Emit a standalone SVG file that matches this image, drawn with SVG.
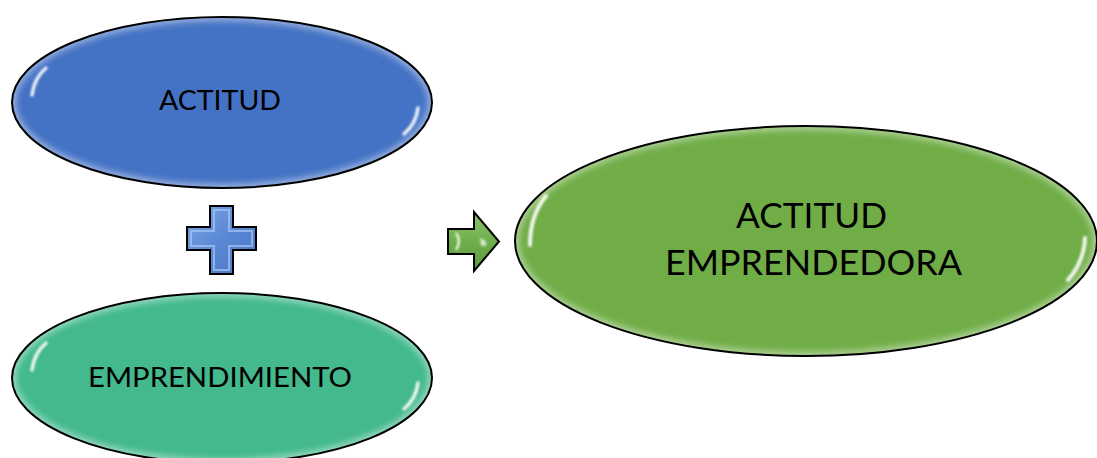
<svg xmlns="http://www.w3.org/2000/svg" width="1097" height="458" viewBox="0 0 1097 458">
<style>
.lbl{font-family:Lato,"Open Sans","Liberation Sans",sans-serif;fill:#000;text-anchor:middle}
.outline{stroke:#000;stroke-width:2}
.rim{fill:none;stroke:#fff;stroke-opacity:0.45;stroke-width:8;filter:url(#blur3)}
.hl{fill:none;stroke:#fff;stroke-linecap:round;filter:url(#blur1)}
</style>
<defs>
<filter id="blur3" x="-10%" y="-10%" width="120%" height="120%"><feGaussianBlur stdDeviation="3"/></filter>
<filter id="blur1" x="-50%" y="-50%" width="200%" height="200%"><feGaussianBlur stdDeviation="1.2"/></filter>
<clipPath id="c1"><ellipse cx="222" cy="102.5" rx="210" ry="85.5"/></clipPath>
<clipPath id="c2"><ellipse cx="222" cy="378" rx="210" ry="85"/></clipPath>
<clipPath id="c3"><ellipse cx="806" cy="241" rx="291" ry="115"/></clipPath>
<linearGradient id="plusG" x1="0" y1="0" x2="1" y2="1">
<stop offset="0" stop-color="#7ea6e6"/><stop offset="0.5" stop-color="#5a88d4"/><stop offset="1" stop-color="#4a76c2"/>
</linearGradient>
<linearGradient id="arrG" x1="0" y1="0" x2="0" y2="1">
<stop offset="0" stop-color="#8cc46c"/><stop offset="0.5" stop-color="#6fae4c"/><stop offset="1" stop-color="#5c9a3c"/>
</linearGradient>
</defs>

<g id="node-actitud">
<ellipse cx="222" cy="102.5" rx="210" ry="85.5" fill="#4472c4"/>
<g clip-path="url(#c1)"><ellipse class="rim" cx="222" cy="102.5" rx="210" ry="85.5"/></g>
<path class="hl" d="M32 95 Q34 78 46 68" stroke-width="3.5" stroke-opacity="0.9"/>
<path class="hl" d="M418 108 Q416 124 404 134" stroke-width="3.5" stroke-opacity="0.9"/>
<ellipse class="outline" cx="222" cy="102.5" rx="210" ry="85.5" fill="none"/>
<text class="lbl" x="220" y="110" font-size="26" textLength="122" lengthAdjust="spacingAndGlyphs">ACTITUD</text>
</g>

<g id="node-emprendimiento">
<ellipse cx="222" cy="378" rx="210" ry="85" fill="#43b98d"/>
<g clip-path="url(#c2)"><ellipse class="rim" cx="222" cy="378" rx="210" ry="85"/></g>
<path class="hl" d="M32 370 Q34 353 46 343" stroke-width="3.5" stroke-opacity="0.9"/>
<path class="hl" d="M418 383 Q416 399 404 409" stroke-width="3.5" stroke-opacity="0.9"/>
<ellipse class="outline" cx="222" cy="378" rx="210" ry="85" fill="none"/>
<text class="lbl" x="220" y="387" font-size="26" textLength="264" lengthAdjust="spacingAndGlyphs">EMPRENDIMIENTO</text>
</g>

<g id="node-actitud-emprendedora">
<ellipse cx="806" cy="241" rx="291" ry="115" fill="#70ad47"/>
<g clip-path="url(#c3)"><ellipse class="rim" cx="806" cy="241" rx="291" ry="115"/></g>
<path class="hl" d="M530 245 Q530 215 546 196" stroke-width="4" stroke-opacity="0.9"/>
<path class="hl" d="M1085 238 Q1084 262 1068 280" stroke-width="4" stroke-opacity="0.9"/>
<ellipse class="outline" cx="806" cy="241" rx="291" ry="115" fill="none"/>
<text class="lbl" x="811.5" y="228" font-size="35" textLength="151" lengthAdjust="spacingAndGlyphs">ACTITUD</text>
<text class="lbl" x="813.5" y="275" font-size="35" textLength="297" lengthAdjust="spacingAndGlyphs">EMPRENDEDORA</text>
</g>

<g id="connectors">
<g id="plus">
<path d="M210 206 H233 V227 H256 V250 H233 V274 H210 V250 H187 V227 H210 Z" fill="url(#plusG)" stroke="#000" stroke-width="2" stroke-linejoin="miter"/>
<path d="M214 210 H229 V231 H252 V246 H229 V270 H214 V246 H191 V231 H214 Z" fill="none" stroke="#a9c6f2" stroke-width="2" stroke-opacity="0.7"/>
<path d="M221.5 212 V236 M221.5 244 V268" stroke="#cfe0fb" stroke-width="2.5" filter="url(#blur1)"/>
</g>
<g id="arrow">
<path d="M448 229 H474 V212 L499 241.5 L474 271 V254 H448 Z" fill="url(#arrG)" stroke="#000" stroke-width="2" stroke-linejoin="miter"/>
<path d="M456 233 Q462 241 456 250" fill="none" stroke="#e9f5df" stroke-width="2.5" filter="url(#blur1)"/>
<path d="M480 238 Q488 240 486 246 L481 246 Z" fill="#e9f5df" opacity="0.8" filter="url(#blur1)"/>
</g>
</g>
</svg>
